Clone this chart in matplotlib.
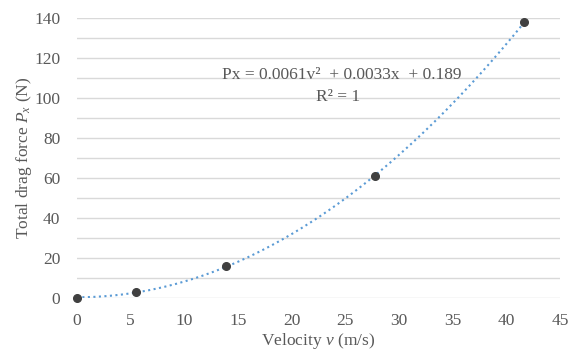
import numpy as np
import matplotlib
matplotlib.use("Agg")
import matplotlib.pyplot as plt

plt.rcParams['font.family'] = ['Liberation Serif', 'DejaVu Serif']
plt.rcParams['mathtext.fontset'] = 'custom'
plt.rcParams['mathtext.rm'] = 'Liberation Serif'
plt.rcParams['mathtext.it'] = 'Liberation Serif:italic'

# measured points
velocity = [0, 5.5, 13.9, 27.8, 41.7]
drag_force = [0, 3.0, 15.7, 61.0, 138.0]

eq_text = "Px = 0.0061v²  + 0.0033x  + 0.189"
r2_text = "R² = 1"

grey = '#595959'
fs = 12.5

fig = plt.figure(figsize=(5.69, 3.58), dpi=100)
ax = fig.add_axes([0.135, 0.168, 0.849, 0.782])

# polynomial trendline (order 2) fitted through the points, like the spreadsheet
coef = np.polyfit(velocity, drag_force, 2)
vv = np.linspace(min(velocity), max(velocity), 200)
ax.plot(vv, np.polyval(coef, vv), ':', color='#5B9BD5', lw=1.5, zorder=2)

ax.plot(velocity, drag_force, 'o', color='#404040', ms=5.5, zorder=3, clip_on=False)

ax.set_xlim(0, 45)
ax.set_ylim(0, 140)
ax.set_xticks(np.arange(0, 46, 5))
ax.set_yticks(np.arange(0, 141, 20))
ax.set_yticks(np.arange(0, 141, 10), minor=True)
ax.grid(True, which='both', axis='y', color='#d9d9d9', lw=1)
ax.set_axisbelow(True)
for s in ax.spines.values():
    s.set_visible(False)
ax.tick_params(which='both', length=0, labelsize=fs, colors=grey)
ax.tick_params(axis='x', pad=11)
ax.tick_params(axis='y', pad=12)

ax.set_xlabel("Velocity $\\mathit{v}$ (m/s)", fontsize=fs, color=grey, labelpad=1)
ax.set_ylabel("Total drag force $\\mathit{P_x}$ (N)", fontsize=fs, color=grey, labelpad=0)

ax.text(0.549, 0.796, eq_text, transform=ax.transAxes, fontsize=fs, color=grey, ha='center', va='center')
ax.text(0.541, 0.718, r2_text, transform=ax.transAxes, fontsize=fs, color=grey, ha='center', va='center')

fig.savefig("out.png", dpi=100)
